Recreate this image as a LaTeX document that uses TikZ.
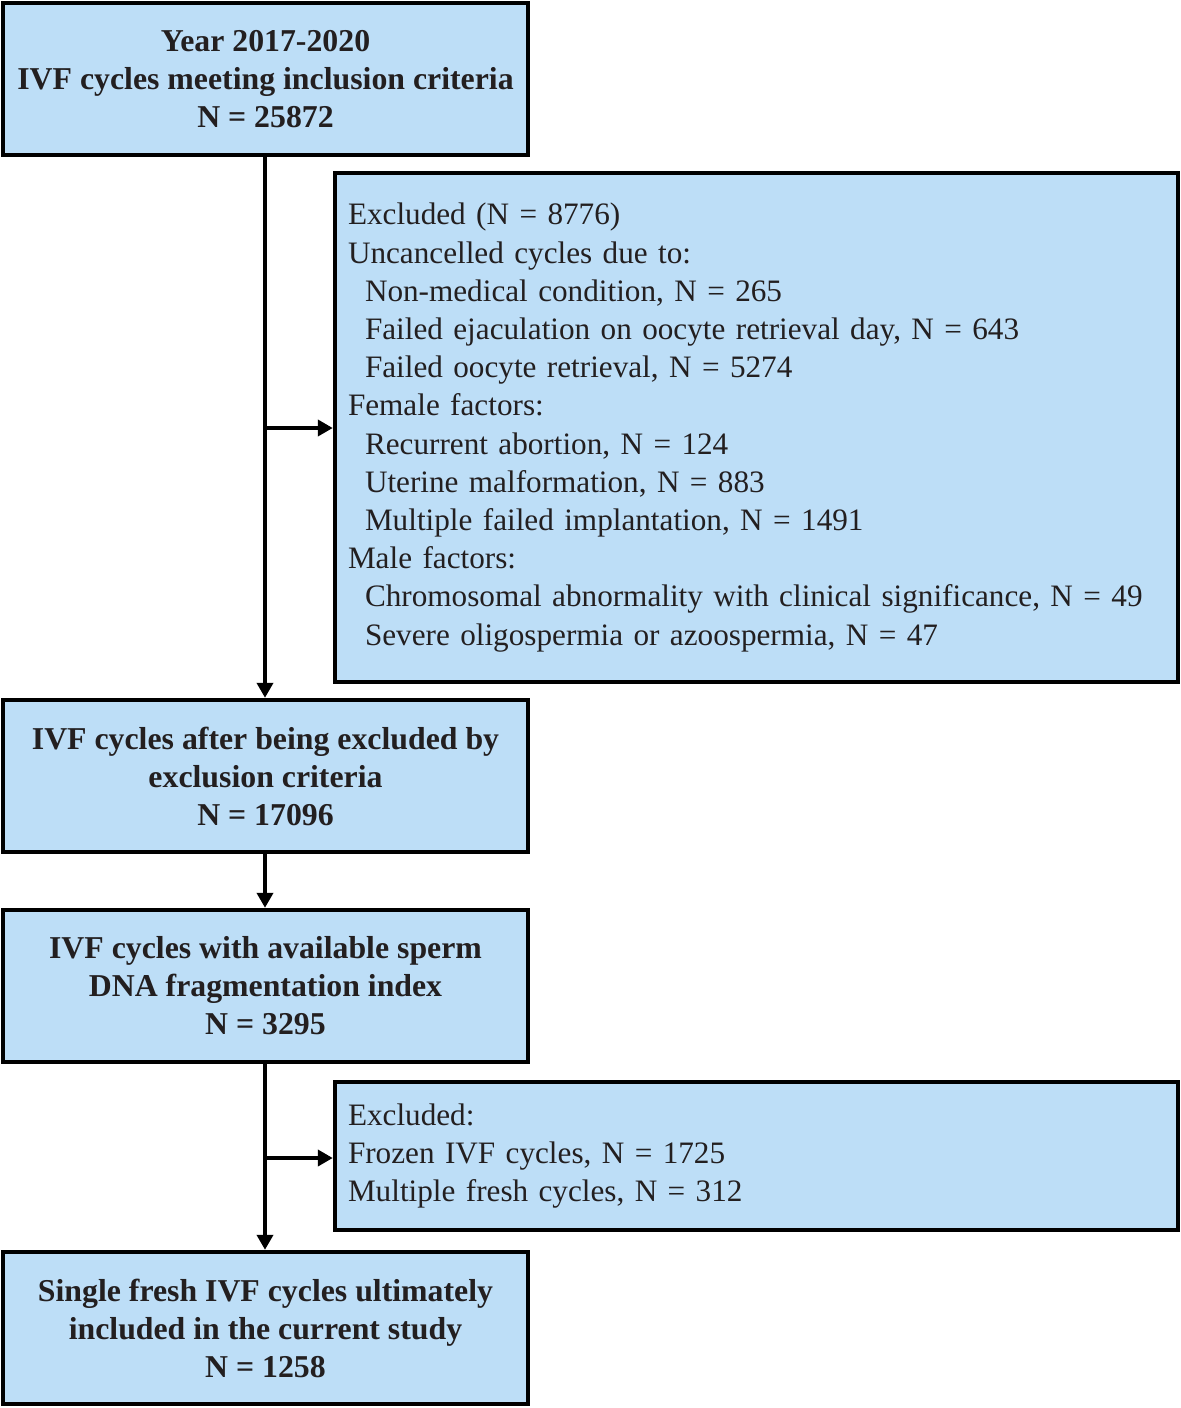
\documentclass[tikz,border=0pt]{standalone}
\usepackage{fontspec}
\setmainfont{Liberation Serif}
\usetikzlibrary{arrows.meta}
\definecolor{boxfill}{HTML}{BDDEF7}
\definecolor{txt}{HTML}{231F20}
\begin{document}
\begin{tikzpicture}[x=0.5pt,y=-0.5pt,
  mainbox/.style={draw=black,line width=2.2pt,fill=boxfill,minimum width=262.5pt,minimum height=76pt,
    align=center,text=txt,font=\fontsize{15.9}{19}\selectfont\bfseries,inner sep=0pt},
  exbox/.style={draw=black,line width=2.2pt,fill=boxfill,minimum width=421.5pt,text width=408.5pt,
    align=left,text=txt,font=\fontsize{15.6}{19.1}\selectfont,inner xsep=6.5pt,inner ysep=0pt},
  conn/.style={line width=2pt,-{Triangle[length=7.5pt,width=8pt]}}]
\useasboundingbox (0,0) rectangle (1180,1408);
\newcommand{\ind}{\hspace*{8.5pt}}
\node[mainbox] (b1) at (265.5,79) {Year 2017-2020\\IVF cycles meeting inclusion criteria\\N = 25872};
\node[exbox,minimum height=254.5pt] (e1) at (756.5,427.5) {Excluded (N = 8776)\\
Uncancelled cycles due to:\\
\ind Non-medical condition, N = 265\\
\ind Failed ejaculation on oocyte retrieval day, N = 643\\
\ind Failed oocyte retrieval, N = 5274\\
Female factors:\\
\ind Recurrent abortion, N = 124\\
\ind Uterine malformation, N = 883\\
\ind Multiple failed implantation, N = 1491\\
Male factors:\\
\ind Chromosomal abnormality with clinical significance, N = 49\\
\ind Severe oligospermia or azoospermia, N = 47};
\node[mainbox] (b2) at (265.5,776) {IVF cycles after being excluded by\\exclusion criteria\\N = 17096};
\node[mainbox] (b3) at (265.5,986) {IVF cycles with available sperm\\DNA fragmentation index\\N = 3295};
\node[exbox,minimum height=74pt] (e2) at (756.5,1156) {Excluded:\\Frozen IVF cycles, N = 1725\\Multiple fresh cycles, N = 312};
\node[mainbox] (b4) at (265.5,1328) {Single fresh IVF cycles ultimately\\included in the current study\\N = 1258};
\coordinate (j1) at (265,428);
\coordinate (j2) at (265,1158);
\draw[conn] (b1.south -| j1) -- (b2.north -| j1);
\draw[conn] (j1) -- (j1 -| e1.west);
\draw[conn] (b2.south -| j1) -- (b3.north -| j1);
\draw[conn] (b3.south -| j2) -- (b4.north -| j2);
\draw[conn] (j2) -- (j2 -| e2.west);
\end{tikzpicture}
\end{document}
